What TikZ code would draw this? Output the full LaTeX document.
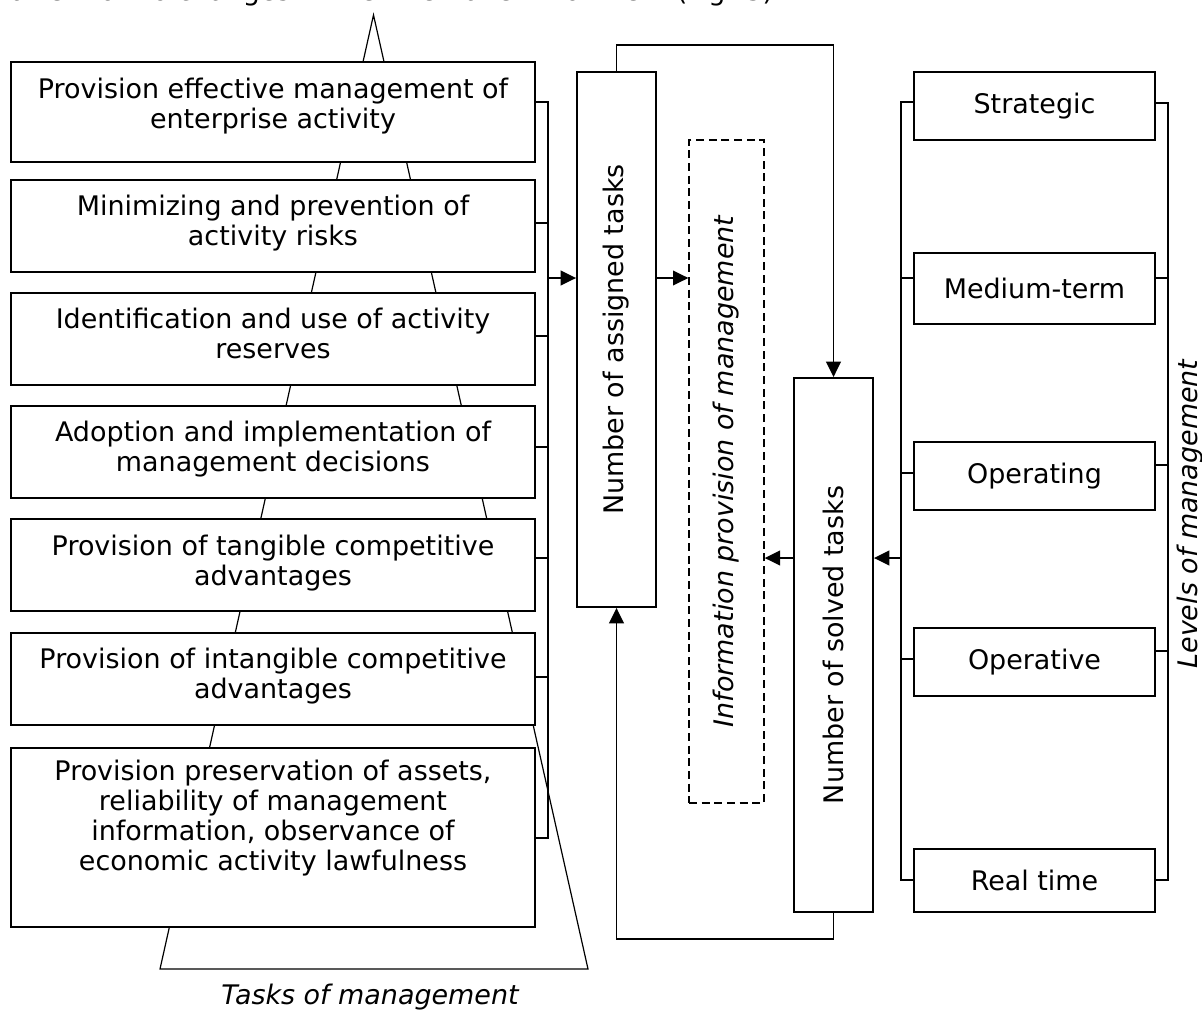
\documentclass[tikz,border=0pt]{standalone}
\usepackage{fontspec}
\setmainfont{DejaVu Sans}
\usetikzlibrary{arrows.meta}
\begin{document}
\begin{tikzpicture}[x=0.75pt,y=-0.75pt,
  every node/.style={font=\fontsize{20.2}{22.5}\selectfont},
  box/.style={draw, line width=1.4pt, fill=white, inner sep=0pt},
  dbox/.style={draw, line width=1pt, dash pattern=on 6pt off 3.5pt, inner sep=0pt},
  conn/.style={line width=1.3pt},
  arr/.style={conn, -{Triangle[length=11.5pt,width=11pt]}},
  txt/.style={align=center, inner sep=0pt, anchor=north},
  lbox/.style={box, minimum width=393pt},
  rbox/.style={box, minimum width=180.75pt},
  vbox/.style={box, minimum width=59.25pt, minimum height=401pt},
  ital/.style={font=\fontsize{20.2}{22.5}\selectfont\itshape}
]
\useasboundingbox (0,0) rectangle (1202,1010);

% partially visible line of text at the top edge
\begin{scope}
\clip (0,0) rectangle (1202,12);
\node[anchor=base west, inner sep=0pt] (toptxt) at (10,0.8) {attention to changes in the internal environment (Fig. 3)};
\end{scope}

% pyramid behind the task boxes
\coordinate (apex) at (373.5,15);
\coordinate (pbl) at (160,969);
\coordinate (pbr) at (588,969);
\draw[line width=0.9pt] (apex) -- (pbl) -- (pbr) -- cycle;

% tasks of management
\node[lbox, minimum height=75pt] (t1) at (273,112) {};
\node[lbox, minimum height=69pt] (t2) at (273,226) {};
\node[lbox, minimum height=69pt] (t3) at (273,339) {};
\node[lbox, minimum height=69pt] (t4) at (273,452) {};
\node[lbox, minimum height=69pt] (t5) at (273,565) {};
\node[lbox, minimum height=69pt] (t6) at (273,679) {};
\node[lbox, minimum height=134.25pt] (t7) at (273,837.5) {};

\node[txt] (t1x) at (273,78) {Provision effective management of\\enterprise activity};
\node[txt] (t2x) at (273,195) {Minimizing and prevention of\\activity risks};
\node[txt] (t3x) at (273,308) {Identification and use of activity\\reserves};
\node[txt] (t4x) at (273,421) {Adoption and implementation of\\management decisions};
\node[txt] (t5x) at (273,535) {Provision of tangible competitive\\advantages};
\node[txt] (t6x) at (273,648) {Provision of intangible competitive\\advantages};
\node[txt] (t7x) at (273,760) {Provision preservation of assets,\\reliability of management\\information, observance of\\economic activity lawfulness};

\node[ital, anchor=base] (tom) at (370,1004) {Tasks of management};

% bus of the tasks
\coordinate (busA) at (548,102);
\coordinate (busB) at (548,838);
\coordinate (busM) at (548,278);
\draw[conn] (t1.east |- busA) -- (busA) -- (busB) -- (t7.east |- busB);
\draw[conn] (t2.east |- 0,223) -- ++(13,0);
\draw[conn] (t3.east |- 0,336) -- ++(13,0);
\draw[conn] (t4.east |- 0,447) -- ++(13,0);
\draw[conn] (t5.east |- 0,558) -- ++(13,0);
\draw[conn] (t6.east |- 0,677) -- ++(13,0);

% central column
\node[vbox, minimum height=401.25pt] (asg) at (616.5,339.5) {};
\node[rotate=90, inner sep=0pt] (asgx) at (asg.center) {Number of assigned tasks};
\node[dbox, minimum width=56.25pt, minimum height=497.25pt] (info) at (726.5,471.5) {};
\node[ital, rotate=90, inner sep=0pt] (infox) at (info.center) {Information provision of management};
\node[vbox, minimum height=400.5pt] (slv) at (833.5,645) {};
\node[rotate=90, inner sep=0pt] (slvx) at (slv.center) {Number of solved tasks};

\draw[arr] (busM) -- (busM -| asg.west);
\draw[arr] (asg.east |- busM) -- (info.west |- busM);
\draw[arr] (asg.north) -- ++(0,-26) -| (slv.north);
\draw[arr] (slv.south) -- ++(0,26) -| (asg.south);

% levels of management
\node[rbox, minimum height=51pt] (s1) at (1034.5,106) {Strategic};
\node[rbox, minimum height=53.25pt] (s2) at (1034.5,288.5) {Medium-term};
\node[rbox, minimum height=51pt] (s3) at (1034.5,476) {Operating};
\node[rbox, minimum height=51pt] (s4) at (1034.5,662) {Operative};
\node[rbox, minimum height=47.25pt] (s5) at (1034.5,880.5) {Real time};

\coordinate (lvA) at (901,102);
\coordinate (lvB) at (901,880);
\coordinate (lvM) at (901,558);
\coordinate (rvA) at (1168,103);
\coordinate (rvB) at (1168,880);
\draw[conn] (s1.west |- lvA) -- (lvA) -- (lvB) -- (s5.west |- lvB);
\draw[conn] (s1.east |- rvA) -- (rvA) -- (rvB) -- (s5.east |- rvB);
\draw[conn] (s2.west |- 0,278) -- (901,278);
\draw[conn] (s3.west |- 0,473) -- (901,473);
\draw[conn] (s4.west |- 0,659) -- (901,659);
\draw[conn] (s2.east |- 0,278) -- (1168,278);
\draw[conn] (s3.east |- 0,465) -- (1168,465);
\draw[conn] (s4.east |- 0,651) -- (1168,651);

\draw[arr] (lvM) -- (lvM -| slv.east);
\draw[arr] (slv.west |- lvM) -- (info.east |- lvM);

\node[ital, rotate=90, inner sep=0pt] (lvl) at (1190,514) {Levels of management};
\end{tikzpicture}
\end{document}
